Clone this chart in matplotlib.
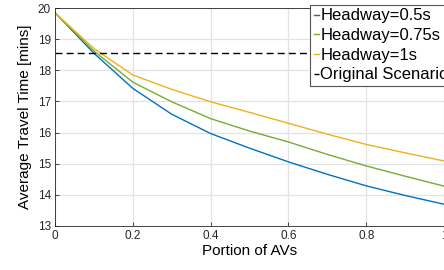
import numpy as np
import matplotlib.pyplot as plt

plt.rcParams['font.family'] = ['Liberation Sans', 'DejaVu Sans']

portion = [0, 0.1, 0.2, 0.3, 0.4, 0.5, 0.6, 0.7, 0.8, 0.9, 1.0]
hw_05 = [19.85, 18.55, 17.42, 16.59, 15.97, 15.50, 15.06, 14.66, 14.29, 13.98, 13.70]
hw_075 = [19.85, 18.62, 17.62, 16.99, 16.45, 16.05, 15.70, 15.30, 14.93, 14.60, 14.28]
hw_1 = [19.85, 18.70, 17.85, 17.39, 16.99, 16.65, 16.30, 15.95, 15.62, 15.35, 15.09]
original = 18.56

fig = plt.figure(figsize=(4.44, 2.70), dpi=100)
ax = fig.add_axes([0.124, 0.163, 0.876, 0.807])

ax.plot(portion, hw_05, color='#0072BD', lw=1, label='Headway=0.5s')
ax.plot(portion, hw_075, color='#77AC30', lw=1, label='Headway=0.75s')
ax.plot(portion, hw_1, color='#EDB120', lw=1, label='Headway=1s')
ax.axhline(original, color='black', ls=(0, (5, 3)), lw=1, label='Original Scenario')

ax.set_xlim(0, 1)
ax.set_ylim(13, 20)
ax.set_xticks([0, 0.2, 0.4, 0.6, 0.8, 1])
ax.set_xticklabels(['0', '0.2', '0.4', '0.6', '0.8', '1'])
ax.grid(True, color='#e3e3e3', lw=0.9)
ax.tick_params(labelsize=8.5, colors='#262626', direction='in', length=3, width=0.6, pad=3)
for s in ax.spines.values():
    s.set_color('#262626')
    s.set_linewidth(0.6)
ax.set_xlabel('Portion of AVs', fontsize=11, labelpad=1)
ax.set_ylabel('Average Travel Time [mins]', fontsize=11, labelpad=4)

leg = ax.legend(loc='upper left', bbox_to_anchor=(0.656, 1.014), fontsize=12,
                handlelength=0.3, handletextpad=0.1, borderpad=0.2,
                labelspacing=0.28, fancybox=False, framealpha=1, borderaxespad=0)
leg.get_frame().set_edgecolor('#555555')
leg.get_frame().set_linewidth(0.8)

fig.savefig('out.png', dpi=100)
